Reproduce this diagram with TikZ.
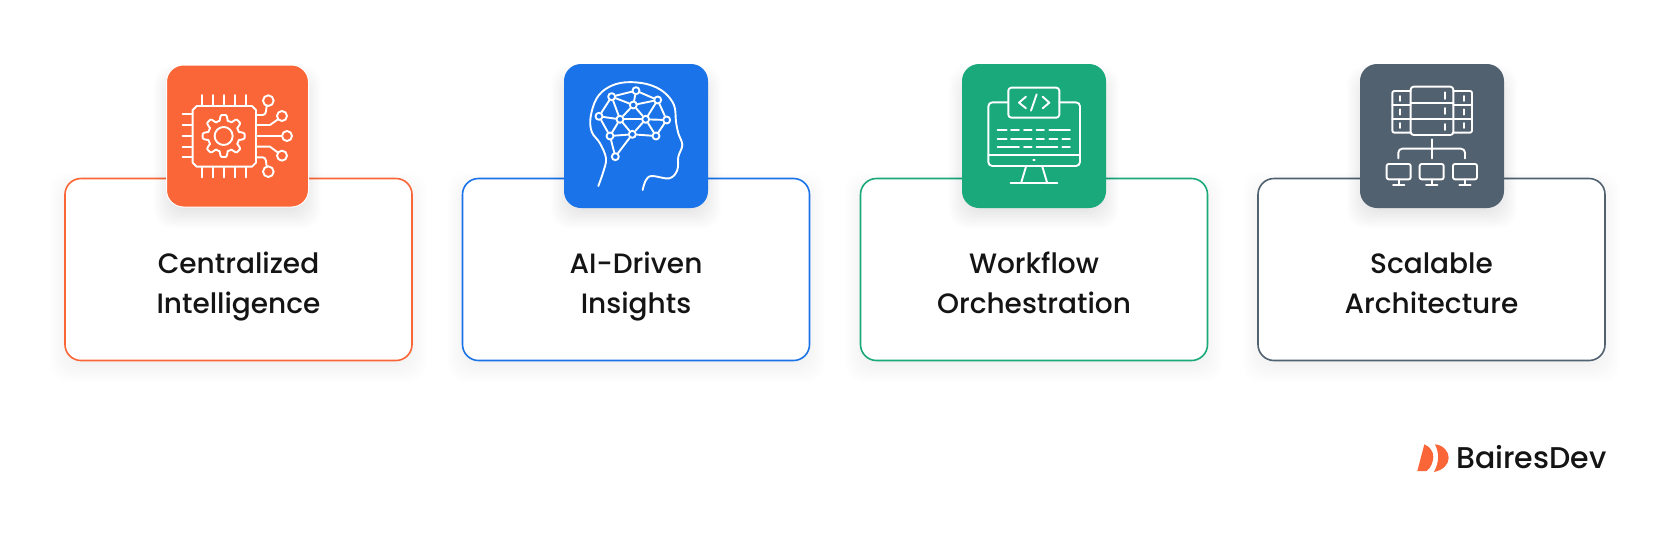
\documentclass[tikz,border=0pt]{standalone}
\usepackage{fontspec}
\setmainfont{Poppins Medium}
\usepackage{tikz}
\usetikzlibrary{positioning, calc}

\definecolor{orangeC}{HTML}{FA6637}
\definecolor{blueC}{HTML}{1A73E8}
\definecolor{greenC}{HTML}{19A97B}
\definecolor{slateC}{HTML}{526170}
\definecolor{inkC}{HTML}{141414}

\tikzset{
	card/.style={draw=#1, line width=1.6pt, fill=white, rounded corners=16pt, minimum width=347pt, minimum height=182pt, inner sep=0pt},
	iconbox/.style={fill=#1, rounded corners=17pt, minimum width=144pt, minimum height=144pt, inner sep=0pt},
	cardlabel/.style={font=\fontsize{28}{40}\selectfont, text=inkC, align=center, inner sep=0pt, anchor=base},
	glyph/.style={draw=white, line width=1.9pt, line cap=round, line join=round},
	brainpt/.style={circle, draw=white, line width=1.9pt, minimum size=7pt, inner sep=0pt},
	zoomed/.style={shift={#1}, x=0.3333pt, y=-0.3333pt}
}

% soft shadow under a box
\newcommand{\softshadow}[5]{
	\foreach \g in {-4,...,10}
		\fill[black, opacity=#5, rounded corners=18pt] ($(#1,#2)+(-\g*1.6,-\g*1.6+8)$) rectangle ($(#3,#4)+(\g*1.6,\g*1.6+8)$);
}

\begin{document}
\begin{tikzpicture}[x=1pt, y=-1pt]
		\useasboundingbox (0,0) rectangle (1668,536);
		\fill[white] (0,0) rectangle (1668,536);

		\softshadow{66}{180}{411}{358}{0.005}
		\softshadow{463}{180}{809}{358}{0.005}
		\softshadow{861}{180}{1207}{358}{0.005}
		\softshadow{1259}{180}{1604}{358}{0.005}

		\node[card=orangeC] (cardA) at (238.5,269.5) {};
		\node[card=blueC] (cardB) at (636,269.5) {};
		\node[card=greenC] (cardC) at (1034,269.5) {};
		\node[card=slateC] (cardD) at (1431.5,269.5) {};

		\node[cardlabel] (labA) at (238.5,313) {Centralized\\Intelligence};
		\node[cardlabel] (labB) at (636,313) {AI-Driven\\Insights};
		\node[cardlabel] (labC) at (1034,313) {Workflow\\Orchestration};
		\node[cardlabel] (labD) at (1431.5,313) {Scalable\\Architecture};

		\softshadow{170}{74}{305}{204}{0.007}
		\softshadow{567}{74}{705}{204}{0.007}
		\softshadow{965}{74}{1103}{204}{0.007}
		\softshadow{1363}{74}{1501}{204}{0.007}

		\node[iconbox=orangeC, draw=white, line width=1pt, minimum width=142pt, minimum height=142pt] (iconA) at (237.5,136) {};
		\node[iconbox=blueC] (iconB) at (636,136) {};
		\node[iconbox=greenC] (iconC) at (1034,136) {};
		\node[iconbox=slateC] (iconD) at (1432,136) {};

		% chip
		\begin{scope}[zoomed={(150,50)}, glyph]
			\draw (128,180) -- (140,168) -- (306,168) -- (318,180) -- (318,338) -- (306,350) -- (140,350) -- (128,338) -- cycle;
			\foreach \px in {157,190,222,255,288} {
				\draw (\px,135) -- (\px,168);
				\draw (\px,350) -- (\px,382);
			}
			\foreach \py in {192,225,258,290,322}
				\draw (98,\py) -- (128,\py);
			\draw (221,258) circle (27);
			\begin{scope}[shift={(221,258)}]
				\draw plot[domain=0:360, samples=121, smooth] (\x:{55+8*max(-1,min(1,2*cos(8*\x)))}) -- cycle;
			\end{scope}
			\draw (318,195) -- (338,195) to[out=0, in=-100] (350,168);
			\draw (318,225) -- (360,225) -- (384,208);
			\draw (318,258) -- (396,258);
			\draw (318,290) -- (360,290) -- (384,308);
			\draw (318,322) -- (338,322) to[out=0, in=100] (350,350);
			\draw (355,152) circle (16);
			\draw (396,198) circle (15);
			\draw (411,258) circle (15);
			\draw (396,317) circle (15);
			\draw (355,365) circle (16);
		\end{scope}

		% head and brain
		\begin{scope}[zoomed={(550,50)}, glyph]
			\draw plot[smooth, tension=0.6] coordinates {(145,408) (160,365) (168,325) (150,280) (125,245) (122,200) (140,145) (175,112) (225,97) (290,102) (340,125) (372,165) (378,215) (385,250) (397,285) (385,320) (382,360) (358,385) (305,378) (287,392) (278,420)};
			\foreach \ptname/\ptx/\pty in {a/185/140, b/258/122, c/323/150, d/250/165, e/147/199, f/210/208, g/287/208, h/350/210, i/180/258, j/247/253, k/318/258, l/196/320}
				\node[brainpt] (pt\ptname) at (\ptx,\pty) {};
			\foreach \ptfrom/\ptto in {a/b, b/c, a/d, b/d, d/c, a/e, a/f, d/f, d/g, c/g, c/h, e/f, f/g, g/h, e/i, f/i, f/j, g/j, g/k, h/k, i/j, j/k, i/l, j/l}
				\draw (pt\ptfrom) -- (pt\ptto);
		\end{scope}

		% monitor with code
		\begin{scope}[zoomed={(950,50)}, glyph]
			\draw[rounded corners=4pt] (175,157) -- (115,157) -- (115,348) -- (390,348) -- (390,157) -- (328,157);
			\draw[rounded corners=3pt] (175,113) rectangle (328,203);
			\draw (115,316) -- (390,316);
			\draw (250,331) -- (254,331);
			\draw (228,350) -- (213,400);
			\draw (277,350) -- (292,400);
			\draw (182,400) -- (322,400);
			\draw (228,140) -- (207,158) -- (228,175);
			\draw (278,140) -- (298,158) -- (278,175);
			\draw (260,133) -- (243,182);
			\foreach \xa/\xb in {143/170, 183/207, 222/245, 260/282, 298/360}
				\draw (\xa,240) -- (\xb,240);
			\foreach \xa/\xb in {143/170, 183/245, 260/282, 298/322, 337/360}
				\draw (\xa,266) -- (\xb,266);
			\foreach \xa/\xb in {143/207, 222/245, 260/322, 337/360}
				\draw (\xa,292) -- (\xb,292);
		\end{scope}

		% server racks and clients
		\begin{scope}[zoomed={(1340,50)}, glyph]
			\draw[rounded corners=3pt] (212,110) rectangle (340,255);
			\draw (212,158) -- (340,158);
			\draw (212,207) -- (340,207);
			\draw[rounded corners=2pt] (212,123) -- (157,123) -- (157,248) -- (212,248);
			\draw (157,165) -- (212,165);
			\draw (157,207) -- (212,207);
			\draw[rounded corners=2pt] (340,123) -- (396,123) -- (396,248) -- (340,248);
			\draw (340,165) -- (396,165);
			\draw (340,207) -- (396,207);
			\foreach \ya/\yb in {127/147, 174/192, 222/240}
				\draw (314,\ya) -- (314,\yb);
			\foreach \ya/\yb in {138/153, 178/194, 219/234} {
				\draw (180,\ya) -- (180,\yb);
				\draw (371,\ya) -- (371,\yb);
			}
			\draw (275,268) -- (275,325);
			\draw[rounded corners=4pt] (175,325) -- (175,296) -- (375,296) -- (375,325);
			\foreach \mx in {176,275,375} {
				\draw[rounded corners=2pt] (\mx-36,342) rectangle (\mx+36,388);
				\draw (\mx,388) -- (\mx,404);
				\draw (\mx-17,404) -- (\mx+17,404);
			}
		\end{scope}

		% logo
		\begin{scope}[zoomed={(1400,420)}]
			\fill[orangeC] (73,73) .. controls (90,80) and (100,95) .. (100,110) .. controls (100,125) and (92,145) .. (80,153) -- (52,153) -- cycle;
			\fill[orangeC] (105,73) .. controls (130,75) and (146,95) .. (146,113) .. controls (146,133) and (130,150) .. (102,156) .. controls (118,125) and (118,100) .. (105,73) -- cycle;
		\end{scope}
		\node[font=\fontsize{30}{30}\selectfont, text=inkC, anchor=west, inner sep=0pt] (logotext) at (1456,457) {BairesDev};
	\end{tikzpicture}
\end{document}
